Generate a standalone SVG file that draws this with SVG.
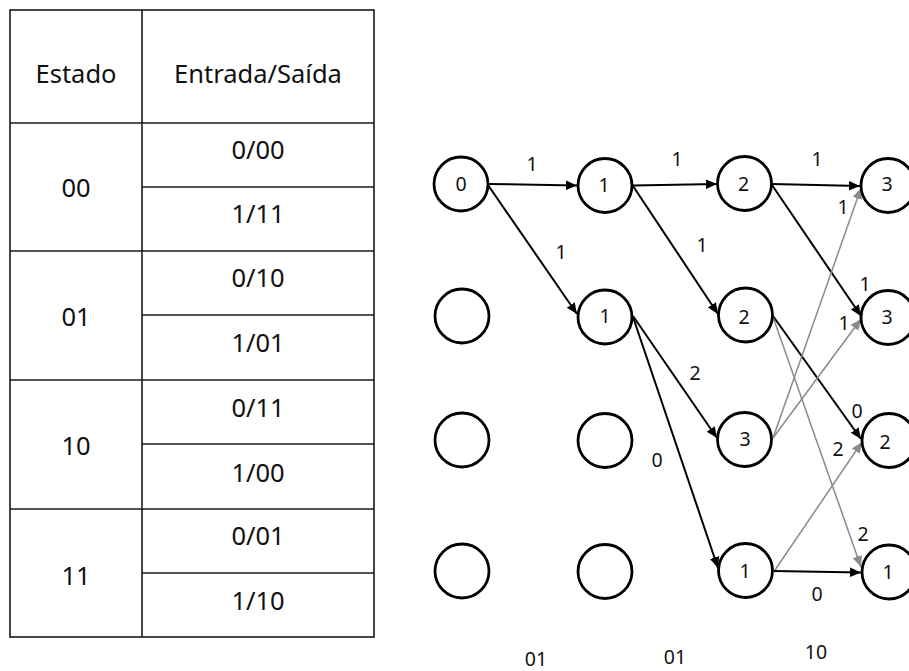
<svg xmlns="http://www.w3.org/2000/svg" width="909" height="671" viewBox="0 0 909 671">
  <style>
    .grid { stroke: #1a1a1a; stroke-width: 1.6; fill: none; }
    .tt { font-family: "Noto Sans", "Open Sans", "Liberation Sans", sans-serif; font-size: 25.5px; fill: #111; text-anchor: middle; }
    .node circle { fill: #fff; stroke: #000; stroke-width: 2.8; }
    .node text, .lbl { font-family: "Noto Sans", "Open Sans", "Liberation Sans", sans-serif; font-size: 19.5px; fill: #111; text-anchor: middle; }
    .blk { stroke: #000; stroke-width: 2; fill: none; }
    .gry { stroke: #8a8a8a; stroke-width: 1.5; fill: none; }
  </style>
  <defs>
    <marker id="ah-black" markerUnits="userSpaceOnUse" markerWidth="12" markerHeight="12" viewBox="0 0 12 12" refX="11" refY="6" orient="auto">
      <path d="M0,1.2 L11,6 L0,10.8 Z" fill="#000"/>
    </marker>
    <marker id="ah-gray" markerUnits="userSpaceOnUse" markerWidth="12" markerHeight="12" viewBox="0 0 12 12" refX="11" refY="6" orient="auto">
      <path d="M0,1.2 L11,6 L0,10.8 Z" fill="#8a8a8a"/>
    </marker>
  </defs>

  <rect width="909" height="671" fill="#fff"/>

  <!-- State table -->
  <g id="table">
    <rect class="grid" x="10" y="10" width="364" height="627"/>
    <line class="grid" x1="142" y1="10" x2="142" y2="637"/>
    <line class="grid" x1="10" y1="123" x2="374" y2="123"/>
    <line class="grid" x1="10" y1="251" x2="374" y2="251"/>
    <line class="grid" x1="10" y1="380" x2="374" y2="380"/>
    <line class="grid" x1="10" y1="509" x2="374" y2="509"/>
    <line class="grid" x1="142" y1="187" x2="374" y2="187"/>
    <line class="grid" x1="142" y1="315" x2="374" y2="315"/>
    <line class="grid" x1="142" y1="444" x2="374" y2="444"/>
    <line class="grid" x1="142" y1="573" x2="374" y2="573"/>

    <text class="tt" x="76" y="83">Estado</text>
    <text class="tt" x="258" y="83">Entrada/Saída</text>

    <text class="tt" x="76" y="197">00</text>
    <text class="tt" x="76" y="326">01</text>
    <text class="tt" x="76" y="455">10</text>
    <text class="tt" x="76" y="585">11</text>

    <text class="tt" x="258" y="159">0/00</text>
    <text class="tt" x="258" y="223">1/11</text>
    <text class="tt" x="258" y="287">0/10</text>
    <text class="tt" x="258" y="352">1/01</text>
    <text class="tt" x="258" y="417">0/11</text>
    <text class="tt" x="258" y="482">1/00</text>
    <text class="tt" x="258" y="545">0/01</text>
    <text class="tt" x="258" y="610">1/10</text>
  </g>

  <!-- Trellis connectors -->
  <g id="connectors">
    <line class="blk" x1="488" y1="184" x2="577" y2="185.5" marker-end="url(#ah-black)"/>
    <line class="blk" x1="488" y1="185" x2="577" y2="314" marker-end="url(#ah-black)"/>
    <line class="blk" x1="633" y1="185.5" x2="717" y2="184" marker-end="url(#ah-black)"/>
    <line class="blk" x1="633" y1="186" x2="718" y2="314" marker-end="url(#ah-black)"/>
    <line class="blk" x1="772" y1="184" x2="860" y2="186" marker-end="url(#ah-black)"/>
    <line class="blk" x1="772" y1="185" x2="861" y2="316" marker-end="url(#ah-black)"/>
    <line class="blk" x1="633" y1="316" x2="717" y2="438" marker-end="url(#ah-black)"/>
    <line class="blk" x1="633" y1="317" x2="718" y2="568" marker-end="url(#ah-black)"/>
    <line class="blk" x1="773" y1="316" x2="861" y2="439" marker-end="url(#ah-black)"/>
    <line class="blk" x1="774" y1="571" x2="861" y2="572.5" marker-end="url(#ah-black)"/>

    <line class="gry" x1="773" y1="438" x2="861" y2="188" marker-end="url(#ah-gray)"/>
    <line class="gry" x1="773" y1="438" x2="861" y2="319" marker-end="url(#ah-gray)"/>
    <line class="gry" x1="773" y1="317" x2="861" y2="567" marker-end="url(#ah-gray)"/>
    <line class="gry" x1="775" y1="570" x2="862" y2="442" marker-end="url(#ah-gray)"/>
  </g>

  <!-- Branch metrics -->
  <g id="labels">
    <text class="lbl" x="532" y="171">1</text>
    <text class="lbl" x="561" y="259">1</text>
    <text class="lbl" x="677" y="166">1</text>
    <text class="lbl" x="702" y="252">1</text>
    <text class="lbl" x="817" y="166">1</text>
    <text class="lbl" x="843" y="214">1</text>
    <text class="lbl" x="865" y="291">1</text>
    <text class="lbl" x="844" y="330">1</text>
    <text class="lbl" x="695" y="380">2</text>
    <text class="lbl" x="657" y="467">0</text>
    <text class="lbl" x="857" y="418">0</text>
    <text class="lbl" x="838" y="456">2</text>
    <text class="lbl" x="863" y="541">2</text>
    <text class="lbl" x="817" y="601">0</text>
    <text class="lbl" x="536" y="666">01</text>
    <text class="lbl" x="675" y="664">01</text>
    <text class="lbl" x="816" y="659">10</text>
  </g>

  <!-- Trellis states: column 1 -->
  <g id="n-c1-r1" class="node"><circle cx="461" cy="184" r="27"/><text x="461" y="191">0</text></g>
  <g id="n-c1-r2" class="node"><circle cx="462" cy="316" r="27"/></g>
  <g id="n-c1-r3" class="node"><circle cx="462" cy="440" r="27"/></g>
  <g id="n-c1-r4" class="node"><circle cx="462" cy="571" r="27"/></g>
  <!-- column 2 -->
  <g id="n-c2-r1" class="node"><circle cx="605" cy="185.5" r="27"/><text x="604" y="192">1</text></g>
  <g id="n-c2-r2" class="node"><circle cx="605" cy="317" r="27"/><text x="605" y="323">1</text></g>
  <g id="n-c2-r3" class="node"><circle cx="605" cy="440.5" r="27"/></g>
  <g id="n-c2-r4" class="node"><circle cx="605" cy="571.5" r="27"/></g>
  <!-- column 3 -->
  <g id="n-c3-r1" class="node"><circle cx="744.5" cy="183.5" r="27"/><text x="743.5" y="191">2</text></g>
  <g id="n-c3-r2" class="node"><circle cx="745.5" cy="315" r="27"/><text x="744" y="324">2</text></g>
  <g id="n-c3-r3" class="node"><circle cx="744.5" cy="439.5" r="27"/><text x="745" y="446">3</text></g>
  <g id="n-c3-r4" class="node"><circle cx="745.5" cy="570.5" r="27"/><text x="745" y="578">1</text></g>
  <!-- column 4 -->
  <g id="n-c4-r1" class="node"><circle cx="888" cy="185.5" r="27"/><text x="887" y="191">3</text></g>
  <g id="n-c4-r2" class="node"><circle cx="888" cy="317.5" r="27"/><text x="887" y="324">3</text></g>
  <g id="n-c4-r3" class="node"><circle cx="889" cy="440.5" r="27"/><text x="885" y="449">2</text></g>
  <g id="n-c4-r4" class="node"><circle cx="889" cy="572" r="27"/><text x="888" y="579">1</text></g>
</svg>
